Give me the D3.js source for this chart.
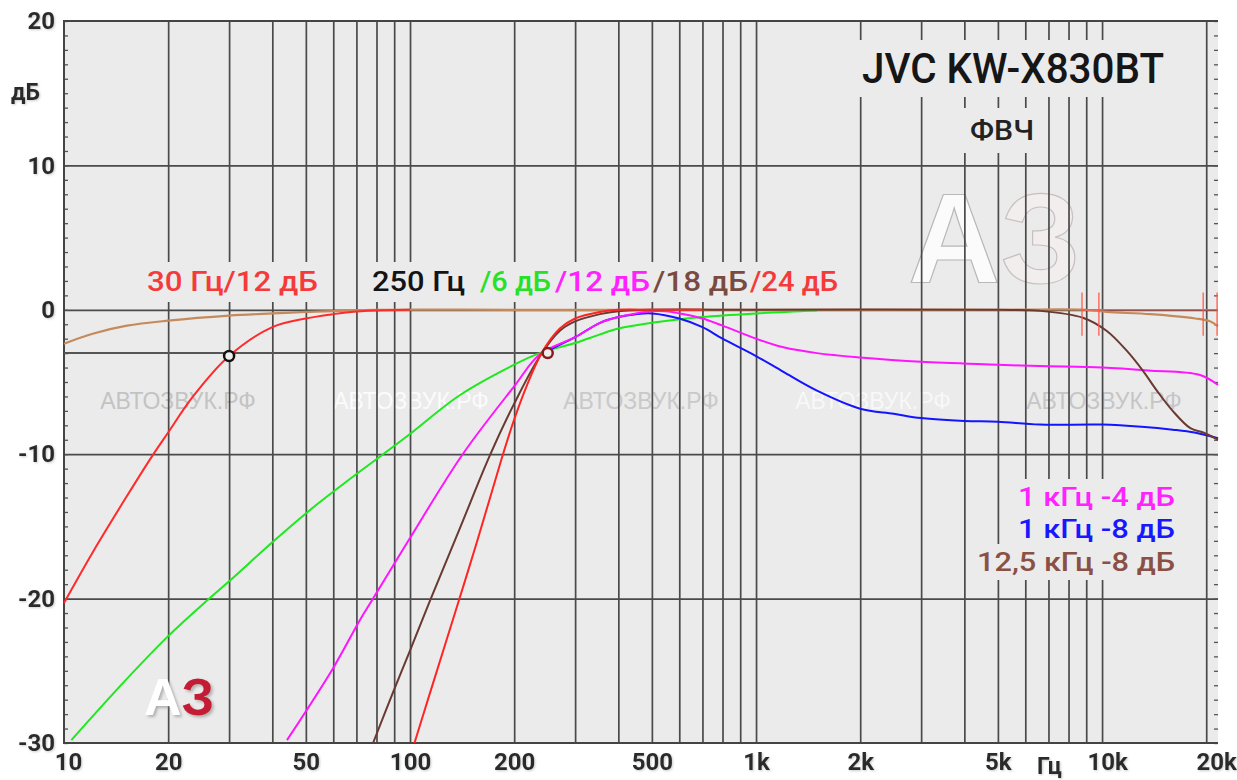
<!DOCTYPE html>
<html><head><meta charset="utf-8">
<script src="https://cdn.jsdelivr.net/npm/d3@7"></script>
<style>html,body{margin:0;padding:0;background:#fff;} svg{display:block;}</style>
</head><body><svg id="c" width="1237" height="780"></svg>
<script>
// ---------- data ----------
const xTickValues = [10, 20, 50, 100, 200, 500, 1000, 2000, 5000, 10000, 20000];
const xTickLabels = ["10", "20", "50", "100", "200", "500", "1k", "2k", "5k", "10k", "20k"];
const yTickValues = [20, 10, 0, -10, -20, -30];
const yTickLabels = ["20", "10", "0", "-10", "-20", "-30"];
const gridFreqs = [20,30,40,50,60,70,80,90,100,200,300,400,500,600,700,800,900,1000,2000,3000,4000,5000,6000,7000,8000,9000,10000,20000];
const gridDb = [10, 0, -10, -20];

// HPF 30 Hz / 12 dB (red)
const freqRed30 = [10, 12.1, 15.2, 17.9, 20, 23.6, 30, 40, 50, 60, 70, 85, 100];
const dbRed30   = [-20.3, -16.8, -12.9, -10.2, -8.5, -6.0, -3.2, -1.2, -0.6, -0.3, -0.12, -0.03, 0];
// reference (tan)
const freqTan = [10, 12.1, 15.2, 20, 30, 40, 50, 80, 200, 1000, 5000, 9000, 10300, 13800, 18600, 20500, 21630];
const dbTan   = [-2.35, -1.66, -1.1, -0.75, -0.4, -0.25, -0.15, 0, 0, 0, 0, 0, -0.15, -0.3, -0.6, -0.8, -1.15];
// HPF 250 Hz / 6 dB (green)
const freqGreen = [10.5, 15, 20, 26, 30, 40, 50, 60, 71.6, 83.6, 100, 139.5, 200, 237, 300, 354, 400, 500, 700, 1000, 1500];
const dbGreen   = [-29.8, -25.7, -22.6, -20.1, -18.8, -16.1, -14.1, -12.6, -11.2, -10.0, -8.6, -5.9, -3.8, -3.0, -2.3, -1.7, -1.3, -0.9, -0.5, -0.25, -0.05];
// HPF 250 Hz / 12 dB + 1 kHz -4 dB (magenta)
const freqMag = [44.1, 60, 71.6, 78.2, 100, 142, 200, 237, 300, 354, 400, 450, 500, 550, 600, 700, 800, 1000, 1200, 1500, 2000, 3000, 5000, 6600, 10000, 13600, 19100, 21630];
const dbMag   = [-29.8, -24.8, -21.5, -20.0, -15.8, -10.0, -5.3, -3.1, -1.9, -0.9, -0.5, -0.25, -0.1, -0.1, -0.25, -0.6, -1.1, -2.0, -2.6, -3.0, -3.3, -3.6, -3.8, -3.9, -4.0, -4.2, -4.5, -5.2];
// 1 kHz -8 dB (blue)
const freqBlue = [237, 300, 354, 400, 450, 500, 600, 700, 800, 1000, 1200, 1500, 2000, 2500, 3000, 4000, 5000, 6600, 10000, 13000, 16000, 18500, 21630];
const dbBlue   = [-3.1, -1.9, -0.9, -0.5, -0.3, -0.25, -0.6, -1.2, -2.0, -3.2, -4.3, -5.6, -6.85, -7.2, -7.5, -7.7, -7.75, -7.95, -7.95, -8.1, -8.3, -8.5, -8.9];
// HPF 250 Hz / 18 dB + 12.5 kHz -8 dB (dark brown)
const freqBrown = [78.2, 89.3, 100, 114, 139.5, 170, 200, 237.5, 271, 300, 354, 400, 500, 1000, 5000, 6600, 8800, 10300, 11800, 13100, 14400, 16000, 18000, 19600, 21630];
const dbBrown   = [-30, -26.5, -23.6, -20.2, -15.1, -10.1, -6.5, -3.2, -1.45, -0.8, -0.3, -0.1, 0, 0, 0, -0.07, -0.55, -1.45, -2.85, -4.2, -5.6, -7.0, -8.2, -8.5, -9.0];
// HPF 250 Hz / 24 dB (red)
const freqRed24 = [103, 114, 137.7, 156, 184.6, 200, 218, 240, 271, 300, 354, 400, 500, 700];
const dbRed24   = [-30, -26.6, -20.3, -16.1, -10.2, -7.6, -5.2, -3.0, -1.3, -0.6, -0.15, 0, 0, 0];

// markers
const markerFreqs = [30, 250];
const markerDb = [-3.2, -3.0];
const refLineFreqs = [10, 250];
const refLineDb = -3;
const redMarkFreqs = [8750, 9790, 19600, 21500];
const redMarkDb = [1.2, -1.8];

// ---------- layout ----------
const svg = d3.select("#c");
const L = 64, R = 1218, T = 21, B = 743;
const x = d3.scaleLog().domain([10, 21630]).range([L, R]);
const y = d3.scaleLinear().domain([-30, 20]).range([B, T]);
const BG = "#ebebeb", GRID = "#4a4a4a";
const FONT = "Roboto, 'DejaVu Sans', sans-serif";

const defs = svg.append("defs");
const f = defs.append("filter").attr("id", "sh").attr("x", "-20%").attr("y", "-20%").attr("width", "150%").attr("height", "150%");
f.append("feDropShadow").attr("dx", 2).attr("dy", 2).attr("stdDeviation", 1.5).attr("flood-color", "#888").attr("flood-opacity", 0.6);
const f2 = defs.append("filter").attr("id", "tsh").attr("x", "-20%").attr("y", "-20%").attr("width", "150%").attr("height", "150%");
f2.append("feDropShadow").attr("dx", 1).attr("dy", 1).attr("stdDeviation", 1).attr("flood-color", "#999").attr("flood-opacity", 0.5);

svg.append("rect").attr("x", L).attr("y", T).attr("width", R - L).attr("height", B - T).attr("fill", BG);

// big watermark logo (behind grid)
const wm = svg.append("text").attr("x", 908).attr("y", 283)
  .attr("font-family", "'Liberation Sans', Arial, sans-serif").attr("font-weight", 700).attr("font-size", 128)
  .attr("stroke-width", 1.2);
wm.append("tspan").attr("fill", "#fbfbfb").attr("stroke", "#b8b8b8").text("А");
wm.append("tspan").attr("fill", "#f3eeee").attr("stroke", "#c8c0c0").text("З");

// watermark texts
const wmTextX = [178, 411, 641, 873, 1104];
const wmTextFill = ["#c3c3c3", "#fbfbfb", "#c9c9c9", "#f8f8f8", "#c6c6c6"];
svg.append("g").selectAll("text").data(wmTextX).join("text")
  .attr("x", d => d).attr("y", 409).attr("text-anchor", "middle")
  .attr("font-family", "'Liberation Sans', Arial, sans-serif").attr("font-size", 23)
  .attr("fill", (d, i) => wmTextFill[i]).text("АВТОЗВУК.РФ");

// grid via axes
const gv = svg.append("g").attr("transform", `translate(0,${B})`)
  .call(d3.axisBottom(x).tickValues(gridFreqs).tickSize(-(B - T)).tickFormat(""));
gv.select(".domain").remove();
gv.selectAll("line").attr("stroke", GRID).attr("stroke-width", 1.7);
const gh = svg.append("g").attr("transform", `translate(${L},0)`)
  .call(d3.axisLeft(y).tickValues(gridDb).tickSize(-(R - L)).tickFormat(""));
gh.select(".domain").remove();
gh.selectAll("line").attr("stroke", GRID).attr("stroke-width", 1.7);

// minor ticks
const ml = svg.append("g").attr("transform", `translate(${L},0)`)
  .call(d3.axisRight(y).tickValues(d3.range(-30, 21)).tickSize(4).tickFormat(""));
ml.select(".domain").remove();
ml.selectAll("line").attr("stroke", "#555").attr("stroke-width", 1.3);
const mr = svg.append("g").attr("transform", `translate(${R},0)`)
  .call(d3.axisLeft(y).tickValues(d3.range(-30, 21)).tickSize(4).tickFormat(""));
mr.select(".domain").remove();
mr.selectAll("line").attr("stroke", "#555").attr("stroke-width", 1.3);

// frame (top, left, bottom)
svg.append("path").attr("d", `M${R},${T}H${L}V${B}H${R}`).attr("fill", "none").attr("stroke", "#444").attr("stroke-width", 2);

// -3 dB reference line
svg.append("line").attr("x1", x(refLineFreqs[0])).attr("x2", x(refLineFreqs[1]))
  .attr("y1", y(refLineDb)).attr("y2", y(refLineDb)).attr("stroke", "#555").attr("stroke-width", 2);

// curves
const line = d3.line().x(d => x(d[0])).y(d => y(d[1])).curve(d3.curveCatmullRom.alpha(0.5));
const series = [
  {f: freqTan, v: dbTan, c: "#c48a5c", w: 2.2},
  {f: freqGreen, v: dbGreen, c: "#1ee81e", w: 2},
  {f: freqBlue, v: dbBlue, c: "#1414ff", w: 2},
  {f: freqMag, v: dbMag, c: "#ff14ff", w: 2},
  {f: freqBrown, v: dbBrown, c: "#6a3a32", w: 2},
  {f: freqRed24, v: dbRed24, c: "#ff2424", w: 2},
  {f: freqRed30, v: dbRed30, c: "#ff2a2a", w: 2}
];
svg.append("g").selectAll("path").data(series).join("path")
  .attr("d", s => line(s.f.map((f, i) => [f, s.v[i]])))
  .attr("fill", "none").attr("stroke", s => s.c).attr("stroke-width", s => s.w)
  .attr("stroke-linejoin", "round");

// red marker annotation
const rm = svg.append("g").attr("stroke", "#ff5a4a").attr("stroke-width", 1.5).attr("opacity", 0.85);
rm.append("line").attr("x1", x(redMarkFreqs[0])).attr("x2", x(redMarkFreqs[3])).attr("y1", y(0)).attr("y2", y(0));
rm.selectAll("line.v").data(redMarkFreqs).join("line").attr("class", "v")
  .attr("x1", d => x(d)).attr("x2", d => x(d)).attr("y1", y(redMarkDb[0])).attr("y2", y(redMarkDb[1]));

// circles
const circColors = ["#111", "#8a1a1a"];
svg.append("g").selectAll("circle").data(markerFreqs).join("circle")
  .attr("cx", d => x(d)).attr("cy", (d, i) => y(markerDb[i])).attr("r", 5)
  .attr("fill", "#eeeeee").attr("stroke", (d, i) => circColors[i]).attr("stroke-width", 2.5);

// ---------- texts with background boxes ----------
function boxedTexts(items, pad) {
  const g = svg.append("g");
  const bg = g.append("g");
  const nodes = items.map(it => {
    const t = g.append("text").attr("x", it.x).attr("y", it.y)
      .attr("font-family", FONT).attr("font-size", it.size).attr("font-weight", it.weight || 500)
      .attr("fill", it.color).text(it.text);
    if (it.len) t.attr("textLength", it.len).attr("lengthAdjust", "spacingAndGlyphs");
    return t;
  });
  nodes.forEach((t, i) => {
    const b = t.node().getBBox();
    const p = items[i].pad || pad;
    bg.append("rect").attr("x", b.x - p[0]).attr("y", b.y - p[1])
      .attr("width", b.width + 2 * p[0]).attr("height", b.height + 2 * p[1]).attr("fill", BG);
  });
  return g;
}

// title
boxedTexts([{x: 862, y: 83, size: 42, text: "JVC KW-X830BT", color: "#161616", len: 302, weight: 500}], [3, 4]);
boxedTexts([{x: 970, y: 140, size: 28, text: "ФВЧ", color: "#222", len: 64, weight: 500}], [14, 6]);

// top labels
boxedTexts([
  {x: 147, y: 291, size: 27, text: "30 Гц/12 дБ", color: "#f43a3a", len: 171},
  {x: 372, y: 291, size: 27, text: "250 Гц", color: "#141414", len: 93},
  {x: 480, y: 291, size: 27, text: "/6 дБ", color: "#28e028", len: 71},
  {x: 555, y: 291, size: 27, text: "/12 дБ", color: "#ff22ff", len: 95},
  {x: 653, y: 291, size: 27, text: "/18 дБ", color: "#7a4a40", len: 95},
  {x: 750, y: 291, size: 27, text: "/24 дБ", color: "#f43a3a", len: 88}
], [6, 4]);

// legend
boxedTexts([
  {x: 1018, y: 506, size: 26, text: "1 кГц -4 дБ", color: "#ff22ff", len: 157},
  {x: 1018, y: 538, size: 26, text: "1 кГц -8 дБ", color: "#1818ff", len: 157},
  {x: 977, y: 571, size: 26, text: "12,5 кГц -8 дБ", color: "#8a5044", len: 198}
], [5, 3]);

// ---------- axes labels ----------
const ay = svg.append("g").attr("transform", `translate(${L},0)`)
  .call(d3.axisLeft(y).tickValues(yTickValues).tickSize(0).tickPadding(9).tickFormat((d, i) => yTickLabels[i]));
ay.select(".domain").remove();
ay.selectAll("text").attr("font-family", FONT).attr("font-size", 24).attr("font-weight", 700).attr("fill", "#2a2a2a").attr("filter", "url(#tsh)");

const ax = svg.append("g").attr("transform", `translate(0,${B})`)
  .call(d3.axisBottom(x).tickValues(xTickValues).tickSize(0).tickPadding(10).tickFormat((d, i) => xTickLabels[i]));
ax.select(".domain").remove();
ax.selectAll("text").attr("font-family", FONT).attr("font-size", 24).attr("font-weight", 700).attr("fill", "#2a2a2a").attr("filter", "url(#tsh)");
ax.selectAll("text").filter((d, i) => i === 0).attr("dx", 4);
ax.selectAll("text").filter((d, i) => i === xTickValues.length - 1).attr("dx", 10);
ax.selectAll("text").filter((d, i) => i === 9).attr("dx", 5);

svg.append("text").attr("x", 11).attr("y", 100).attr("font-family", FONT).attr("font-size", 23)
  .attr("font-weight", 700).attr("fill", "#2a2a2a").attr("filter", "url(#tsh)").text("дБ");
svg.append("text").attr("x", 1037).attr("y", 774).attr("font-family", FONT).attr("font-size", 23)
  .attr("font-weight", 700).attr("fill", "#2a2a2a").attr("filter", "url(#tsh)").text("Гц");

// small logo
const lg = svg.append("text").attr("x", 144).attr("y", 715).attr("filter", "url(#sh)")
  .attr("font-family", "'Liberation Sans', Arial, sans-serif").attr("font-weight", 700).attr("font-size", 52);
lg.append("tspan").attr("fill", "#ffffff").text("А");
lg.append("tspan").attr("fill", "#c51c36").text("З");
</script></body></html>
